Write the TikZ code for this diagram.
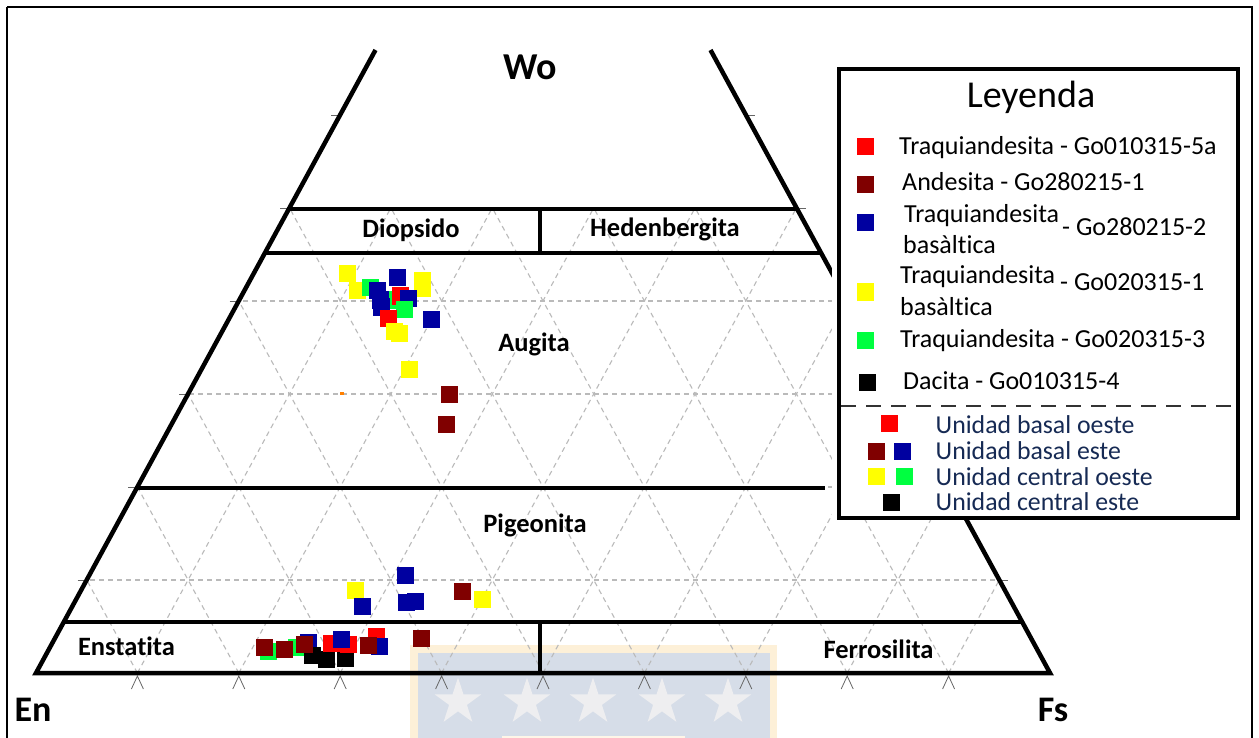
\documentclass[tikz,border=0pt]{standalone}
\usepackage{fontspec}
\setmainfont{Carlito}[Ligatures=NoCommon]
\usetikzlibrary{shapes.geometric}
\definecolor{cred}{RGB}{255,0,0}
\definecolor{cdark}{RGB}{128,0,0}
\definecolor{cblue}{RGB}{0,0,160}
\definecolor{cyel}{RGB}{255,255,0}
\definecolor{cgreen}{RGB}{0,255,64}
\definecolor{wmorange}{RGB}{253,240,216}
\definecolor{wmblue}{RGB}{214,221,232}
\definecolor{wmstar}{RGB}{238,238,240}
\definecolor{unitext}{RGB}{22,42,84}
\newcommand\sqp[3]{\fill[#1] (#2,#3) +(-8.5,-8.5) rectangle +(8.5,8.5);}
\begin{document}
\begin{tikzpicture}[x=1pt,y=-1pt,
  thickline/.style={line width=4.5pt},
  gridline/.style={draw=black!27, line width=1.1pt, dash pattern=on 5pt off 4pt},
  tickline/.style={draw=black!60, line width=0.8pt},
  lab/.style={font=\bfseries\fontsize{26.5}{30}\selectfont, anchor=base, inner sep=0pt},
  big/.style={font=\bfseries\fontsize{38}{40}\selectfont, anchor=base, inner sep=0pt},
  legt/.style={font=\fontsize{26}{30}\selectfont, anchor=base west, inner sep=0pt},
  unit/.style={font=\fontsize{25.8}{30}\selectfont, anchor=base west, inner sep=0pt, text=unitext},
  wstar/.style={star, star points=5, star point ratio=2.618, minimum size=49pt, inner sep=0pt, fill=wmstar}]
\useasboundingbox (0,0) rectangle (1259,738);
\fill[white] (0,0) rectangle (1259,738);
% watermark
\fill[wmorange] (410,645) rectangle (777,745);
\fill[wmblue] (418,653) rectangle (770,745);
\fill[wmorange!60!white] (502,736) rectangle (685,745);
\foreach \sx [count=\i] in {458,527,593,662,728}
  \node[wstar] (star\i) at (\sx,702) {};
% frame
\draw[line width=2pt] (7,7) -- (7,745) (7,7) -- (1252,7) -- (1252,745);
% grid
\begin{scope}
\clip (288.9,209) -- (797.1,209) -- (1050,673) -- (36,673) -- cycle;
\foreach \j in {1,...,4} \draw[gridline] (0,{673-93*\j}) -- (1100,{673-93*\j});
\foreach \k in {0,...,10} {
  \draw[gridline] ({36+101.4*\k},673) -- ++(252.9,-464);
  \draw[gridline] ({36+101.4*\k},673) -- ++(-252.9,-464);
}
\end{scope}
% base ticks
\foreach \k in {1,...,9}
  \draw[tickline] ({36+101.4*\k-6},689) -- ({36+101.4*\k},676) -- ({36+101.4*\k+6},689);
% side ticks
\foreach \yy in {115,208,301,394,487,580} {
  \draw[tickline] ({36+(673-\yy)*0.545-9},\yy) -- ({36+(673-\yy)*0.545},\yy);
  \draw[tickline] ({1050-(673-\yy)*0.545},\yy) -- ({1050-(673-\yy)*0.545+9},\yy);
}
% outline
\draw[thickline] (375.5,50) -- (36,673) -- (1050,673) -- (710.5,50);
\draw[thickline] (288.9,209) -- (797.1,209);
\draw[thickline] (264.9,253) -- (821.1,253);
\draw[thickline] (540,209) -- (540,253);
\draw[thickline] (136.8,488) -- (825,488);
\draw[thickline] (63.8,622) -- (1022.2,622);
\draw[thickline] (540,622) -- (540,673);
% labels
\node[big] (wo) at (530,80) {Wo};
\node[big, font=\bfseries\fontsize{36}{40}\selectfont] (en) at (33,721) {En};
\node[big, font=\bfseries\fontsize{36}{40}\selectfont] (fs) at (1053,721) {Fs};
\node[lab] (diop) at (411,238) {Diopsido};
\node[lab] (hed) at (665,237) {Hedenbergita};
\node[lab] (aug) at (534,351) {Augita};
\node[lab] (pig) at (535,532) {Pigeonita};
\node[lab] (ens) at (126.5,655) {Enstatita};
\node[lab] (fer) at (878.5,658) {Ferrosilita};
% data: upper cluster
\sqp{cyel}{347}{274}
\sqp{cyel}{357}{291}
\sqp{cgreen}{370}{288}
\sqp{cyel}{422}{281}
\sqp{cyel}{422}{289}
\sqp{cblue}{397}{277.5}
\sqp{cgreen}{392}{300}
\sqp{cblue}{377}{291}
\sqp{cblue}{380}{300}
\sqp{cblue}{381}{307}
\sqp{cred}{400}{296}
\sqp{cblue}{408.5}{298.5}
\sqp{cgreen}{404}{309}
\sqp{cred}{388}{318}
\sqp{cyel}{394}{331}
\sqp{cyel}{399}{333}
\sqp{cblue}{431}{319.5}
\sqp{cyel}{409}{369.5}
\sqp{cdark}{449.5}{394}
\sqp{cdark}{446}{424}
\fill[orange] (340,392) rectangle (344,394.5);
% pigeonite
\sqp{cyel}{355}{590}
\sqp{cblue}{362}{606}
\sqp{cblue}{405}{575}
\sqp{cblue}{406}{602}
\sqp{cblue}{415}{601}
\sqp{cdark}{462}{591}
\sqp{cyel}{482}{599}
% enstatite cluster
\sqp{cgreen}{268}{651}
\sqp{cgreen}{296}{647}
\sqp{cdark}{264.5}{647.5}
\sqp{cdark}{284}{649}
\sqp{cblue}{308}{642}
\sqp{black}{312}{655}
\sqp{black}{326}{659}
\sqp{black}{345}{658}
\sqp{cdark}{304}{644}
\sqp{cred}{331}{643}
\sqp{cred}{348}{644}
\sqp{cblue}{341}{639}
\sqp{cred}{376}{636}
\sqp{cblue}{379}{646}
\sqp{cdark}{368}{645.5}
\sqp{cdark}{421}{638}
% legend
\fill[white] (832,62) rectangle (1250,518);
\draw[line width=4pt] (839,69) rectangle (1238,518);
\node[font=\fontsize{38}{40}\selectfont, anchor=base, inner sep=0pt] (leg) at (1031,108) {Leyenda};
\sqp{cred}{865}{147}
\node[legt] (l1) at (899,154.3) {Traquiandesita - Go010315-5a};
\sqp{cdark}{865}{185}
\node[legt] (l2) at (902,191) {Andesita - Go280215-1};
\sqp{cblue}{865}{223}
\node[legt] (l3a) at (904,222.7) {Traquiandesita};
\node[legt] (l3b) at (903,254) {basàltica};
\node[legt] (l3c) at (1062,235.7) {- Go280215-2};
\sqp{cyel}{865}{292}
\node[legt] (l4a) at (900,283.3) {Traquiandesita};
\node[legt] (l4b) at (900,316) {basàltica};
\node[legt] (l4c) at (1060,290.7) {- Go020315-1};
\sqp{cgreen}{865}{340}
\node[legt] (l5) at (900,347.3) {Traquiandesita - Go020315-3};
\sqp{black}{867}{382}
\node[legt] (l6) at (903,389) {Dacita - Go010315-4};
\draw[line width=2pt, black!80, dash pattern=on 15pt off 10pt] (841,406) -- (1236,406);
\sqp{cred}{889.5}{423}
\node[unit] (u1) at (935.5,433.3) {Unidad basal oeste};
\sqp{cdark}{876.5}{451}
\sqp{cblue}{902.5}{451}
\node[unit] (u2) at (935.5,459.3) {Unidad basal este};
\sqp{cyel}{876.5}{476.5}
\sqp{cgreen}{904.5}{476.5}
\node[unit] (u3) at (935.5,485) {Unidad central oeste};
\sqp{black}{891}{502}
\node[unit] (u4) at (935.5,510) {Unidad central este};
\end{tikzpicture}
\end{document}
